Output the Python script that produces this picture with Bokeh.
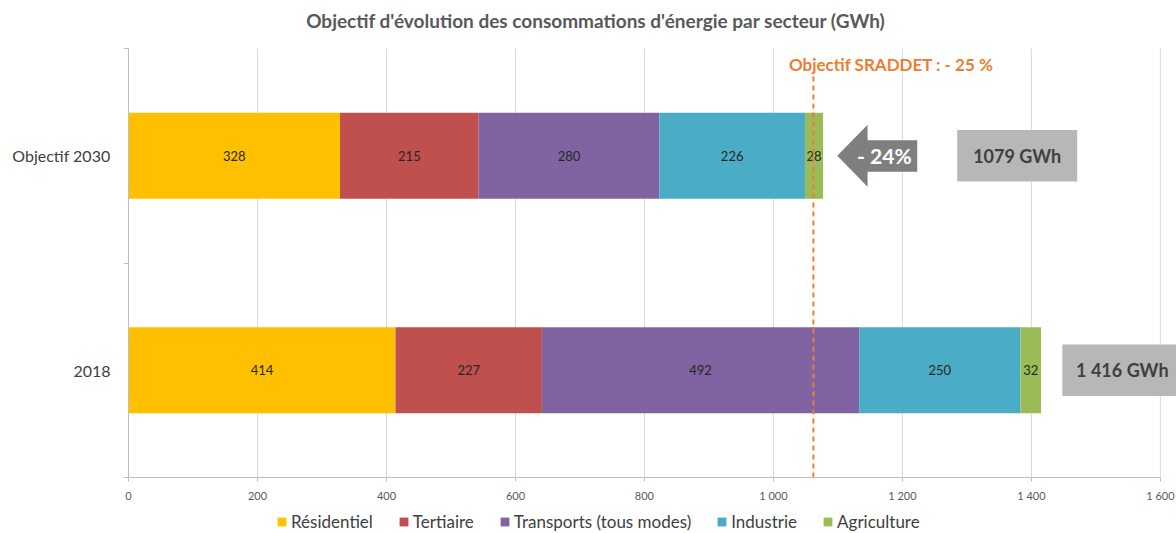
import numpy as np
from bokeh.plotting import figure
from bokeh.layouts import column
from bokeh.models import (ColumnDataSource, FixedTicker, Legend, LegendItem, Range1d, Label)
from bokeh.core.properties import value
from bokeh.embed import file_html
from bokeh.resources import INLINE

# ---------------- data ----------------
title_text = "Objectif d'évolution des consommations d'énergie par secteur (GWh)"
categories = ["2018", "Objectif 2030"]
sectors = ["Résidentiel", "Tertiaire", "Transports (tous modes)", "Industrie", "Agriculture"]
residentiel = [414, 328]
tertiaire = [227, 215]
transports = [492, 280]
industrie = [250, 226]
agriculture = [32, 28]
totals_labels = ["1 416 GWh", "1079 GWh"]
reduction_label = "- 24%"
objective_label = "Objectif SRADDET : - 25 %"
objective_value = 1062
x_ticks = [0, 200, 400, 600, 800, 1000, 1200, 1400, 1600]
x_tick_labels = ["0", "200", "400", "600", "800", "1 000", "1 200", "1 400", "1 600"]
colors = ["#FFC000", "#C0504D", "#8064A2", "#4BACC6", "#9BBB59"]

FONT = "Lato"

y_pos = [0.5, 1.5]
src = ColumnDataSource(dict(
    y=y_pos,
    s0=residentiel, s1=tertiaire, s2=transports, s3=industrie, s4=agriculture,
))
keys = ["s0", "s1", "s2", "s3", "s4"]

# frame spans the full top area so the title can sit inside it
y_top = 2 * 477 / 429
p = figure(width=1176, height=505, output_backend="svg", toolbar_location=None,
           x_range=Range1d(0, 1625), y_range=Range1d(0, y_top),
           min_border_left=128, min_border_right=0, min_border_top=0, min_border_bottom=28)
p.outline_line_color = None

# vertical grid lines (limited to the category area)
p.segment(x0=x_ticks, y0=[0] * len(x_ticks), x1=x_ticks, y1=[2] * len(x_ticks),
          line_color="#D9D9D9", line_width=1)

p.hbar_stack(keys, y="y", height=0.4, color=colors, source=src, line_color=None)

# title
p.text(x=[725], y=[2 + 28 / 214.5], text=[title_text], text_align="center", text_baseline="middle",
       text_font=value(FONT), text_font_size="19px", text_font_style="bold", text_color="#595959")

# data labels inside bars
vals = np.array([residentiel, tertiaire, transports, industrie, agriculture], dtype=float)
cum = vals.cumsum(axis=0)
centers = cum - vals / 2
lx, ly, lt = [], [], []
for i in range(vals.shape[0]):
    for j in range(vals.shape[1]):
        lx.append(centers[i, j]); ly.append(y_pos[j]); lt.append(str(int(vals[i, j])))
p.text(x=lx, y=ly, text=lt, text_align="center", text_baseline="middle",
       text_font=value(FONT), text_font_size="13px", text_color="#262626")

# objective dashed line
p.segment(x0=[objective_value], y0=[0], x1=[objective_value], y1=[1.885],
          line_color="#ED7D31", line_width=2, line_dash="5 4")
p.text(x=[objective_value - 38], y=[1.925], text=[objective_label],
       text_font=value(FONT), text_font_size="17px", text_font_style="bold",
       text_color="#ED7D31", text_baseline="middle", text_align="left")

# arrow "-24%"
ax0, axb, ax1 = 1099, 1146, 1223
yc = y_pos[1]
p.patch(x=[ax0, axb, axb, ax1, ax1, axb, axb],
        y=[yc, yc + 0.145, yc + 0.072, yc + 0.072, yc - 0.075, yc - 0.075, yc - 0.145],
        color="#7F7F7F", line_color=None)
p.text(x=[1172], y=[yc], text=[reduction_label], text_align="center", text_baseline="middle",
       text_font=value(FONT), text_font_size="21px", text_font_style="bold", text_color="white")

# total boxes
box_x = [1540, 1378]
box_w = [184, 186]
p.rect(x=box_x, y=y_pos, width=box_w, height=0.24, color="#B7B7B7", line_color=None)
p.text(x=[1541, 1378], y=y_pos, text=totals_labels, text_align="center", text_baseline="middle",
       text_font=value(FONT), text_font_size="18px", text_font_style="bold", text_color="#404040")

# axes
p.xaxis.ticker = FixedTicker(ticks=x_ticks)
p.xaxis.bounds = (0, 1600)
p.xaxis.major_label_overrides = {t: l for t, l in zip(x_ticks, x_tick_labels)}
p.xaxis.major_label_text_font = FONT
p.xaxis.major_label_text_font_size = "11px"
p.xaxis.major_label_text_color = "#595959"
p.xaxis.axis_line_color = "#BFBFBF"
p.xaxis.major_tick_line_color = "#BFBFBF"
p.xaxis.major_tick_out = 4
p.xaxis.major_tick_in = 0
p.xaxis.minor_tick_line_color = None
p.xaxis.major_label_standoff = 7

p.yaxis.ticker = FixedTicker(ticks=y_pos, minor_ticks=[0, 1, 2])
p.yaxis.bounds = (0, 2)
p.yaxis.major_label_overrides = {y: c for y, c in zip(y_pos, categories)}
p.yaxis.major_label_text_font = FONT
p.yaxis.major_label_text_font_size = "16px"
p.yaxis.major_label_text_color = "#404040"
p.yaxis.axis_line_color = "#BFBFBF"
p.yaxis.major_tick_line_color = None
p.yaxis.minor_tick_line_color = "#BFBFBF"
p.yaxis.minor_tick_out = 5
p.yaxis.minor_tick_in = 0
p.yaxis.major_label_standoff = 12

p.xgrid.grid_line_color = None
p.ygrid.grid_line_color = None

# ---------------- legend strip ----------------
p2 = figure(width=1176, height=28, output_backend="svg", toolbar_location=None,
            x_range=Range1d(0, 1), y_range=Range1d(0, 1),
            x_axis_type=None, y_axis_type=None, min_border=0)
p2.outline_line_color = None
p2.grid.visible = False
leg_renderers = [p2.hbar(y=[-5], left=[0], right=[1], height=0.4, color=c, line_color=None)
                 for c in colors]
legend = Legend(items=[LegendItem(label=s, renderers=[r]) for s, r in zip(sectors, leg_renderers)],
                orientation="horizontal", location=(148, 1),
                label_text_font=FONT, label_text_font_size="17px", label_text_color="#404040",
                glyph_width=11, glyph_height=11, spacing=25, padding=0, margin=0,
                label_standoff=4, border_line_color=None, background_fill_alpha=0)
p2.add_layout(legend)

open("out.html", "w").write(file_html(column(p, p2, spacing=0), INLINE))
